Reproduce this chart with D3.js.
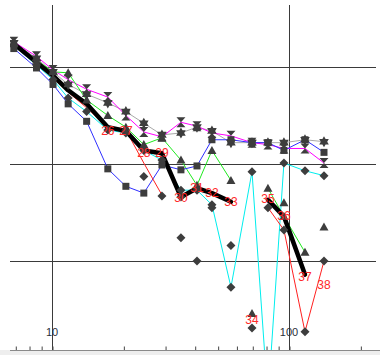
<!DOCTYPE html>
<html>
<head>
<meta charset="utf-8">
<script src="https://cdn.jsdelivr.net/npm/d3@7"></script>
<style>
  html, body { margin: 0; padding: 0; background: #fff; }
  svg { display: block; }
  text { font-family: "Liberation Sans", Arial, sans-serif; }
</style>
</head>
<body>
<svg id="chart" width="380" height="355"></svg>
<script>
// x positions of the 18 observations (log axis)
const xVals = [6.9, 8.6, 10.1, 11.7, 14.0, 17.2, 20.5, 24.4, 29.1, 35.0, 40.9, 47.3, 56.9, 69.8, 81.5, 95.2, 116.8, 140.5];

// series values (null = no observation)
const blackVals   = [324, 305, 291, 276, 262, 238, 234, 214, 211, 166, 175, 170, 161, null, 163, 146, 86, null];
const redVals     = [323, 304, 290, 274, 258, 238, 235, 201, 168, null, null, null, null, null, 155, 132, 27, 100];
const blueVals    = [319, 299, 282, 262, 244, 195, 177, 170, 199, 194, 198, 225, 225, 222, 222, 214, 225, 212];
const greenVals   = [324, 307, 295, 294, 266, 250, 238, 220, 227, 204, 178, 214, 183, null, 175, 146, 109, null];
const magentaVals = [326, 311, 297, 287, 277, 269, 250, 233, 228, 243, 239, 232, 229, 222, 220, 216, 216, 201];
const grayVals    = [325, 309, 295, 282, 272, 263, 254, 242, 230, 232, 238, 234, 222, 222, 222, 222, 225, 223];
const cyanVals    = [322, 302, 287, 268, 254, 235, 232, 214, 204, 173, 173, 158, 73, 192, -43, 201, 193, 188];

// stand-alone markers (index into xVals)
const diamondIdx  = [7, 8, 9, 9, 10, 11, 12, 13, 14, 15, 16, 17];
const diamondVals = [187, 167, 166, 124, 100, 155, 116, 31, 155, 132, 27, 100];
const triangleIdx  = [13, 15, 17];
const triangleVals = [46, 160, 135];

// numbered point labels
const labelNums = [26, 27, 28, 29, 30, 31, 32, 33, 34, 35, 36, 37, 38];
const labelIdx  = [5, 6, 7, 8, 9, 10, 11, 12, 13, 14, 15, 16, 17];
const labelVals = [234, 234, 211, 211, 165, 175, 170, 161, 39, 164, 146, 84, 75];

// axis ticks and grid
const xTickVals  = [7, 8, 9, 10, 20, 30, 40, 50, 60, 70, 80, 90, 100, 200];
const xLabelVals = [10, 100];
const xGridVals  = [10, 100];
const yGridVals  = [100, 200, 300];

const svg = d3.select("#chart");
const plotLeft = 10, plotRight = 376, plotTop = 5, plotBottom = 350;

const x = d3.scaleLog().domain([10, 100]).range([52, 289]);
const y = d3.scaleLinear().domain([0, 300]).range([358, 67]);

svg.append("defs").append("clipPath").attr("id", "plot")
  .append("rect").attr("x", plotLeft).attr("y", plotTop)
  .attr("width", plotRight - plotLeft).attr("height", plotBottom - plotTop);

// bottom strip
svg.append("rect").attr("x", 0).attr("y", plotBottom).attr("width", 380).attr("height", 355 - plotBottom)
  .attr("fill", "#eeeeee");

// grid
const grid = svg.append("g").attr("stroke", "#3a3a3a").attr("stroke-width", 1);
grid.selectAll("line.h").data(yGridVals).join("line").attr("class", "h")
  .attr("x1", plotLeft).attr("x2", plotRight)
  .attr("y1", d => Math.round(y(d)) + 0.5).attr("y2", d => Math.round(y(d)) + 0.5);
grid.selectAll("line.v").data(xGridVals).join("line").attr("class", "v")
  .attr("x1", d => Math.round(x(d)) + 0.5).attr("x2", d => Math.round(x(d)) + 0.5)
  .attr("y1", plotTop).attr("y2", plotBottom);

// x axis with upward ticks
const axis = d3.axisBottom(x).tickValues(xTickVals).tickSize(-4).tickFormat("");
const axG = svg.append("g").attr("transform", `translate(0.5,${plotBottom + 0.5})`).call(axis);
axG.select(".domain").remove();
axG.selectAll(".tick line").attr("stroke", "#444");
svg.append("line").attr("x1", plotLeft).attr("x2", 380).attr("y1", plotBottom + 0.5).attr("y2", plotBottom + 0.5)
  .attr("stroke", "#8a8a8a");

svg.selectAll("text.xl").data(xLabelVals).join("text").attr("class", "xl")
  .attr("x", d => x(d)).attr("y", 336)
  .attr("text-anchor", "middle").attr("font-size", 11).attr("fill", "#2a2f3a")
  .text(d => d);

const plot = svg.append("g").attr("clip-path", "url(#plot)");

function pts(vals) { return vals.map((v, i) => ({ x: xVals[i], v })); }
const line = d3.line().defined(d => d.v != null).x(d => x(d.x)).y(d => y(d.v));

const series = [
  { vals: grayVals,    color: "#a9a9a9", w: 1,   marker: "star" },
  { vals: magentaVals, color: "#ff00ff", w: 1,   marker: "hourglass" },
  { vals: greenVals,   color: "#1fea1f", w: 1,   marker: "triangle" },
  { vals: blueVals,    color: "#2f2fff", w: 1,   marker: "square" },
  { vals: cyanVals,    color: "#00eeee", w: 1,   marker: "diamond" },
  { vals: redVals,     color: "#ff2020", w: 1,   marker: null },
  { vals: blackVals,   color: "#000000", w: 4.5, marker: null }
];

series.forEach(s => {
  plot.append("path").datum(pts(s.vals))
    .attr("fill", "none").attr("stroke", s.color).attr("stroke-width", s.w)
    .attr("stroke-linejoin", "round").attr("stroke-linecap", "round")
    .attr("d", line);
});

// marker shapes (all sub-paths wound the same way so overlaps stay filled)
const shapes = {
  square: "M-3.5,-3.5H3.5V3.5H-3.5Z",
  diamond: "M0,-4.5L4.5,0L0,4.5L-4.5,0Z",
  triangle: "M0,-4.5L4.5,3.5H-4.5Z",
  hourglass: "M-4.5,-5H4.5L0,0L4.5,5H-4.5L0,0Z",
  star: "M0,-5.5L4.8,2.8H-4.8Z M0,5.5L-4.8,-2.8H4.8Z"
};
const markerFill = "#3d3d3d";

const marks = plot.append("g").attr("fill", markerFill);
series.filter(s => s.marker).forEach(s => {
  marks.append("g").selectAll("path")
    .data(pts(s.vals).filter(d => d.v != null))
    .join("path")
    .attr("d", shapes[s.marker])
    .attr("transform", d => `translate(${x(d.x)},${y(d.v)})`);
});

marks.append("g").selectAll("path")
  .data(diamondIdx.map((k, i) => ({ x: xVals[k], v: diamondVals[i] })))
  .join("path").attr("d", shapes.diamond)
  .attr("transform", d => `translate(${x(d.x)},${y(d.v)})`);

marks.append("g").selectAll("path")
  .data(triangleIdx.map((k, i) => ({ x: xVals[k], v: triangleVals[i] })))
  .join("path").attr("d", shapes.triangle)
  .attr("transform", d => `translate(${x(d.x)},${y(d.v)})`);

// numbered labels
plot.append("g").selectAll("text")
  .data(labelNums.map((n, i) => ({ n, x: xVals[labelIdx[i]], v: labelVals[i] })))
  .join("text")
  .attr("x", d => x(d.x)).attr("y", d => y(d.v))
  .attr("text-anchor", "middle").attr("dominant-baseline", "central")
  .attr("font-size", 12).attr("fill", "#ff2a2a")
  .text(d => d.n);
</script>
</body>
</html>
